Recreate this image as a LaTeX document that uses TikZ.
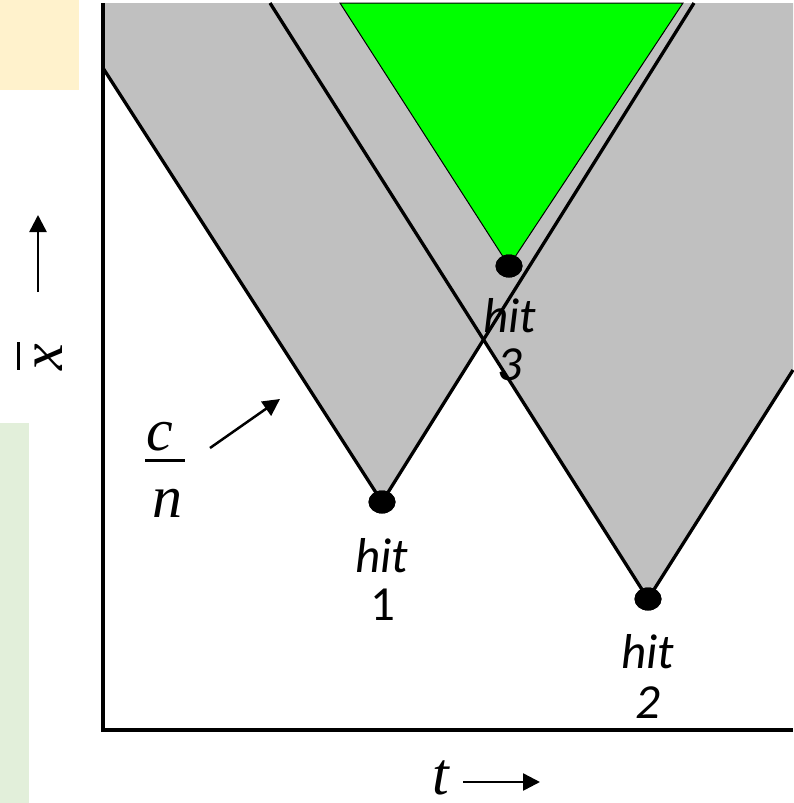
\documentclass[tikz,border=0pt]{standalone}
\usepackage{fontspec}
\setmainfont{Liberation Serif}
\newfontfamily\hitfont{Carlito}
\usetikzlibrary{arrows.meta,shapes.geometric}
\definecolor{beige}{HTML}{FFF2CC}
\definecolor{palegreen}{HTML}{E2EFDA}
\definecolor{conegray}{HTML}{C0C0C0}
\definecolor{brightgreen}{HTML}{00FF00}
\tikzset{
  edge/.style={line width=3.3pt},
  axis/.style={line width=4pt},
  hitdot/.style={ellipse, fill=black, minimum width=27pt, minimum height=23pt, inner sep=0pt},
  hitlbl/.style={font=\hitfont\fontsize{49}{50}\selectfont, anchor=base, inner sep=0pt},
  mathlbl/.style={font=\fontsize{60}{62}\selectfont\itshape, anchor=base, inner sep=0pt},
  pointer/.style={line width=2.5pt, -{Triangle[length=17pt,width=17pt]}}
}
\begin{document}
\begin{tikzpicture}[x=1pt,y=-1pt]
\useasboundingbox (0,0) rectangle (793,803);
% background panels
\fill[beige] (0,0) rectangle (79,90);
\fill[palegreen] (0,423) rectangle (29,803);
% key points
\coordinate (c1l) at (103,68);
\coordinate (c1t) at (694,3);
\coordinate (c2t) at (270,3);
\coordinate (c2r) at (793,370);
\coordinate (c3l) at (340,3);
\coordinate (c3r) at (683,3);
% gray cones
\fill[conegray] (103,3) -- (c1l) -- (382,502) -- (c1t) -- cycle;
\fill[conegray] (c2t) -- (648,599) -- (c2r) -- (793,3) -- cycle;
% green cone
\filldraw[fill=brightgreen, draw=black, line width=1pt] (c3l) -- (509,266) -- (c3r) -- cycle;
% dots
\node[hitdot] (d1) at (382,502) {};
\node[hitdot] (d2) at (648,599) {};
\node[hitdot] (d3) at (509,266) {};
% cone edges
\draw[edge] (c1l) -- (d1.center) -- (c1t);
\draw[edge] (c2t) -- (d2.center) -- (c2r);
\node[hitdot] at (d1) {};
\node[hitdot] at (d2) {};
\node[hitdot] at (d3) {};
% axes
\coordinate (ax0) at (102.5,3);
\coordinate (axc) at (102.5,729.5);
\coordinate (ax1) at (793,729.5);
\draw[axis] (ax0) -- (axc) -- (ax1);
% hit labels
\node[hitlbl] (h1) at (382,572) {\itshape hit};
\node[hitlbl] (n1) at (383,620) {1};
\node[hitlbl] (h2) at (648,668) {\itshape hit};
\node[hitlbl] (n2) at (648,718) {\itshape 2};
\node[hitlbl] (h3) at (510,332) {\itshape hit};
\node[hitlbl] (n3) at (510,380) {\itshape 3};
% t axis label
\node[mathlbl] (tl) at (441,794) {t};
\coordinate (ta0) at (463,782);
\coordinate (ta1) at (540,782);
\draw[pointer] (ta0) -- (ta1);
% x axis label (rotated x-bar)
\node[mathlbl, rotate=90, anchor=center] (xl) at (49,357) {x};
\draw[line width=3pt] (18.5,342) -- (18.5,370);
\coordinate (xa0) at (38,292);
\coordinate (xa1) at (38,215);
\draw[pointer] (xa0) -- (xa1);
% c/n label
\node[mathlbl] (cl) at (160,450) {c};
\draw[line width=3pt] (145,460) -- (185,460);
\node[mathlbl] (nl) at (167,517) {n};
\coordinate (ca0) at (210,448);
\coordinate (ca1) at (280,399);
\draw[pointer] (ca0) -- (ca1);
\end{tikzpicture}
\end{document}
